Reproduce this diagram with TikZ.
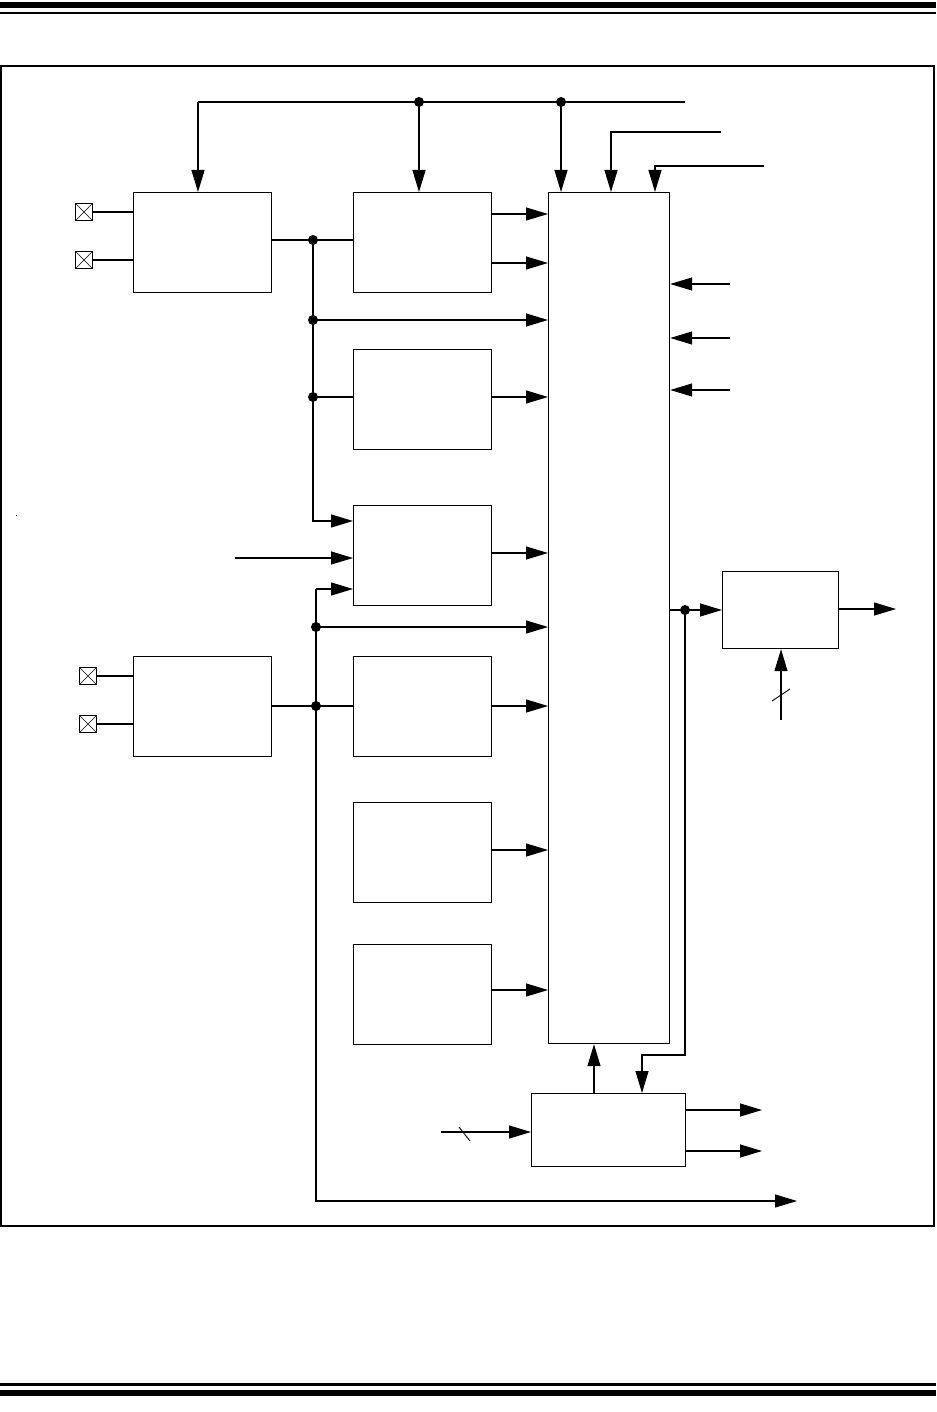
\documentclass[tikz,border=0pt]{standalone}
\usetikzlibrary{arrows.meta}
\begin{document}
\begin{tikzpicture}[x=1pt,y=-1pt,line width=1.2pt,
  blk/.style={draw,line width=1.2pt,inner sep=0pt,anchor=north west,minimum width=138pt,minimum height=100pt},
  padx/.style={draw,line width=0.9pt,inner sep=0pt,minimum size=17pt,
    path picture={\draw[line width=0.6pt] (path picture bounding box.north west) -- (path picture bounding box.south east)
      (path picture bounding box.south west) -- (path picture bounding box.north east);}},
  arr/.style={-{Triangle[length=22pt,width=13pt]}},
  dot/.style={circle,fill,inner sep=0pt,minimum size=10pt}]
\useasboundingbox (0,0) rectangle (936,1412);
% header / footer bars
\fill (0,2) rectangle (936,8);
\fill (0,12) rectangle (936,14.5);
\fill (0,1383) rectangle (936,1385.5);
\fill (0,1390) rectangle (936,1396);
% frame
\draw[line width=1.5pt] (1,66) rectangle (934,1226);
\fill (15.5,514.5) rectangle (16.7,515.7);
% blocks
\node[blk] (A) at (133,192) {};
\node[blk] (C) at (133,656) {};
\node[blk] (B1) at (353,192) {};
\node[blk] (B2) at (353,349) {};
\node[blk] (B3) at (353,505) {};
\node[blk] (B4) at (353,656) {};
\node[blk] (B5) at (353,802) {};
\node[blk] (B6) at (353,944) {};
\node[blk,minimum width=121pt,minimum height=851pt] (M) at (548,192) {};
\node[blk,minimum width=116pt,minimum height=77pt] (E) at (722,571) {};
\node[blk,minimum width=154pt,minimum height=73pt] (D) at (531,1093) {};
% pads
\node[padx] (p1) at (84,212) {};
\node[padx] (p2) at (84,260) {};
\node[padx] (p3) at (88,676) {};
\node[padx] (p4) at (88,724) {};
\draw (p1.east) -- (A.west |- p1);
\draw (p2.east) -- (A.west |- p2);
\draw (p3.east) -- (C.west |- p3);
\draw (p4.east) -- (C.west |- p4);
% top lines
\coordinate (t1) at (198,102);
\coordinate (t2) at (685,102);
\node[dot] (j1) at (419,102) {};
\node[dot] (j2) at (561,102) {};
\draw (t2) -- (t1);
\draw[arr] (t1) -- (t1 |- A.north);
\draw[arr] (j1.center) -- (j1 |- B1.north);
\draw[arr] (j2.center) -- (j2 |- M.north);
\coordinate (s2a) at (611,132); \coordinate (s2b) at (721,132);
\draw[arr] (s2b) -- (s2a) -- (s2a |- M.north);
\coordinate (s3a) at (655,166); \coordinate (s3b) at (764,166);
\draw[arr] (s3b) -- (s3a) -- (s3a |- M.north);
% right inputs to M
\coordinate (r1) at (730,284); \coordinate (r2) at (730,338); \coordinate (r3) at (730,390);
\draw[arr] (r1) -- (M.east |- r1);
\draw[arr] (r2) -- (M.east |- r2);
\draw[arr] (r3) -- (M.east |- r3);
% bus 1
\node[dot] (k0) at (313,240) {};
\node[dot] (k1) at (313,320) {};
\node[dot] (k2) at (313,397) {};
\coordinate (k5) at (313,521);
\draw (A.east |- k0) -- (B1.west |- k0);
\draw[arr] (k0.center) -- (k5) -- (B3.west |- k5);
\draw[arr] (k1.center) -- (M.west |- k1);
\draw (k2.center) -- (B2.west |- k2);
\coordinate (o1) at (0,214); \coordinate (o2) at (0,263);
\draw[arr] (B1.east |- o1) -- (M.west |- o1);
\draw[arr] (B1.east |- o2) -- (M.west |- o2);
\draw[arr] (B2.east |- k2) -- (M.west |- k2);
% B3 inputs / output
\coordinate (i2) at (235,558);
\draw[arr] (i2) -- (B3.west |- i2);
\coordinate (i3) at (316,589);
\draw[arr] (i3) -- (B3.west |- i3);
\coordinate (o3) at (0,553);
\draw[arr] (B3.east |- o3) -- (M.west |- o3);
% bus 2
\node[dot] (k3) at (316,627) {};
\node[dot] (k4) at (316,706) {};
\coordinate (kb) at (316,1201);
\coordinate (kc) at (797,1201);
\draw[arr] (i3) -- (kb) -- (kc);
\draw[arr] (k3.center) -- (M.west |- k3);
\draw (C.east |- k4) -- (B4.west |- k4);
\draw[arr] (B4.east |- k4) -- (M.west |- k4);
\coordinate (o5) at (0,850); \coordinate (o6) at (0,990);
\draw[arr] (B5.east |- o5) -- (M.west |- o5);
\draw[arr] (B6.east |- o6) -- (M.west |- o6);
% E block
\node[dot] (k6) at (685,610) {};
\draw[arr] (M.east |- k6) -- (E.west |- k6);
\coordinate (eo) at (896,609);
\draw[arr] (E.east |- eo) -- (eo);
\coordinate (ei) at (781,720);
\draw[arr] (ei) -- (ei |- E.south);
\draw[line width=0.9pt] (772,701) -- (790,689);
% D block
\coordinate (dc1) at (685,1055); \coordinate (dc2) at (642,1055);
\draw[arr] (k6.center) -- (dc1) -- (dc2) -- (dc2 |- D.north);
\coordinate (du) at (594,0);
\draw[arr] (du |- D.north) -- (du |- M.south);
\coordinate (di) at (441,1132);
\draw[arr] (di) -- (D.west |- di);
\draw[line width=0.9pt] (459,1127) -- (470,1141);
\coordinate (do1) at (762,1110); \coordinate (do2) at (762,1151);
\draw[arr] (D.east |- do1) -- (do1);
\draw[arr] (D.east |- do2) -- (do2);
\end{tikzpicture}
\end{document}
